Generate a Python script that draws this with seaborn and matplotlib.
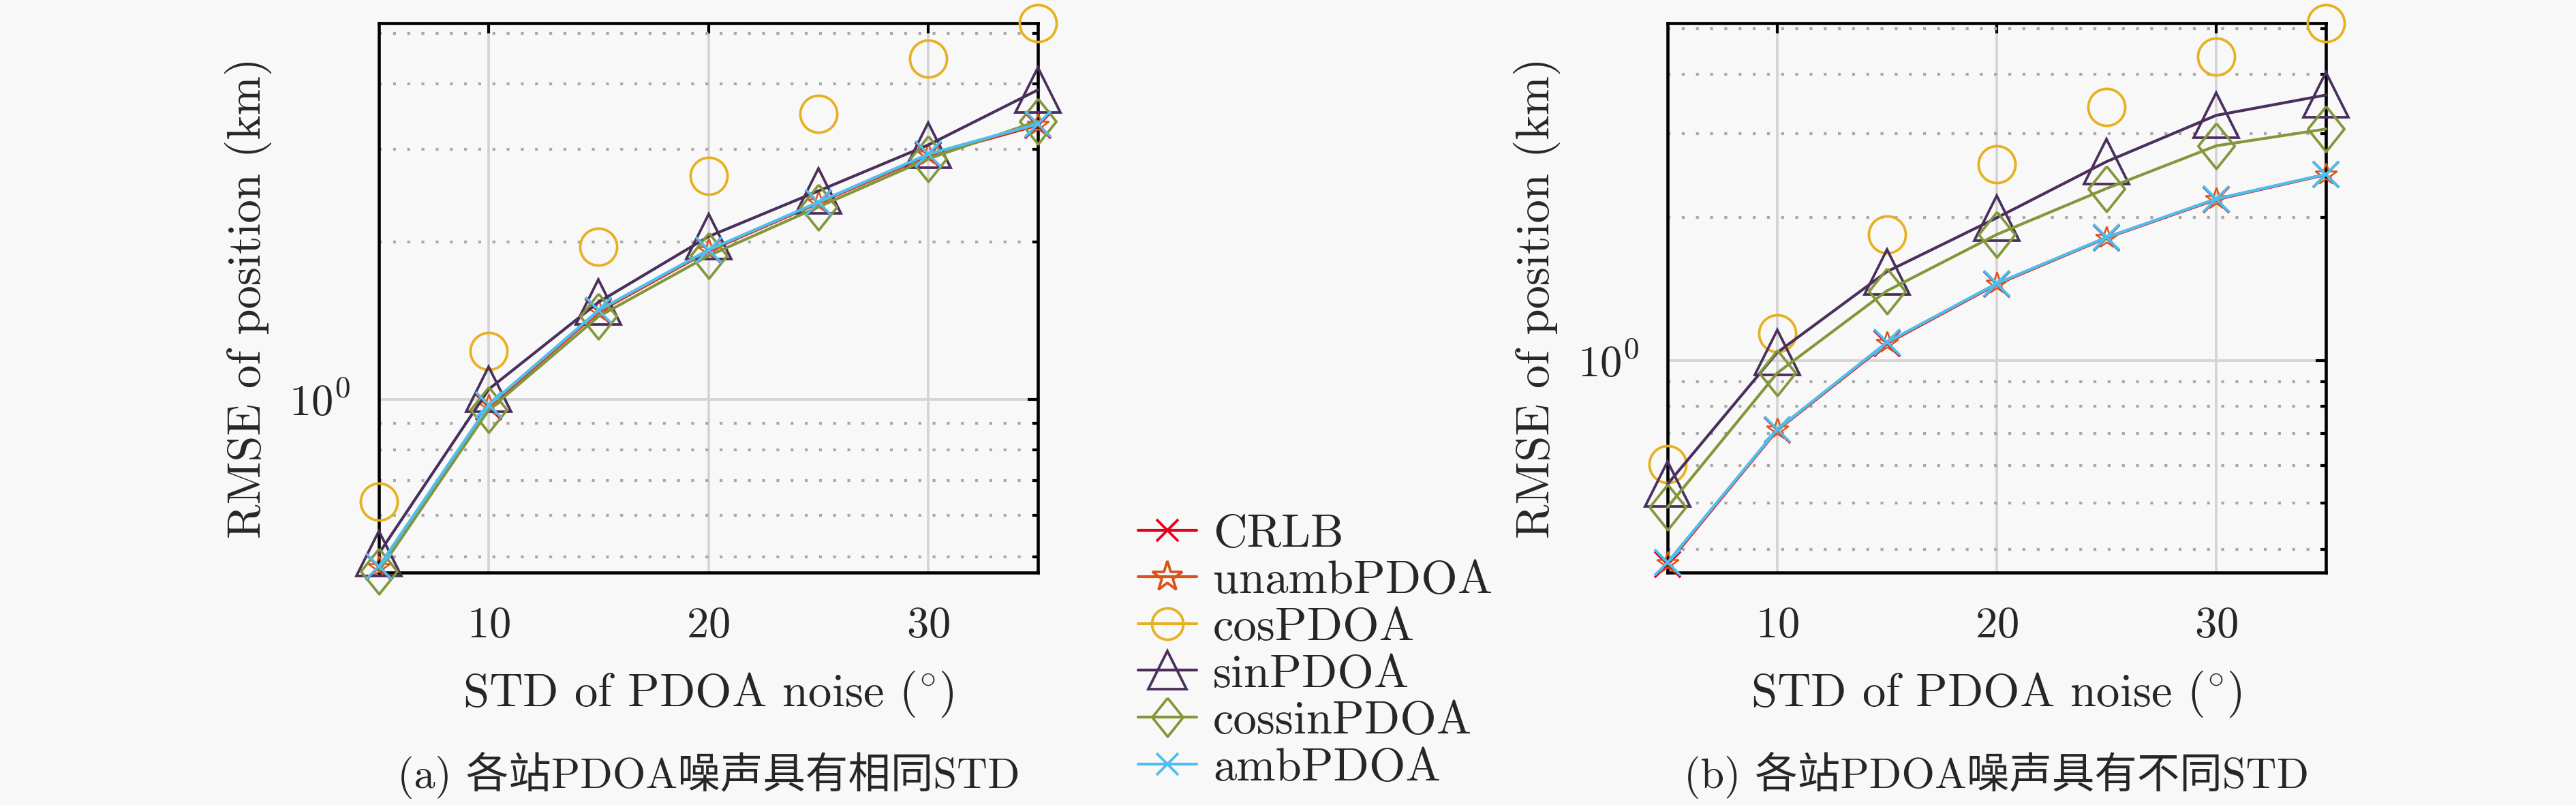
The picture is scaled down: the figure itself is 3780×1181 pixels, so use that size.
import numpy as np
import pandas as pd
import matplotlib
matplotlib.use("Agg")
import matplotlib.pyplot as plt
import seaborn as sns
from matplotlib.lines import Line2D
from matplotlib.ticker import LogLocator, NullLocator, NullFormatter, FixedLocator

# ---------------- data ----------------
x_std = [5, 10, 15, 20, 25, 30, 35]
series_names = ["CRLB", "unambPDOA", "cosPDOA", "sinPDOA", "cossinPDOA", "ambPDOA"]

# panel (a): same STD at every station
crlb_a = [0.478, 0.968, 1.47, 1.92, 2.37, 2.92, 3.34]
unamb_a = [0.479, 0.972, 1.475, 1.925, 2.375, 2.93, 3.35]
cos_a = [0.637, 1.238, 1.955, 2.675, 3.51, 4.47, 5.23]
sin_a = [0.508, 1.046, 1.534, 2.046, 2.50, 3.06, 3.90]
cossin_a = [0.470, 0.955, 1.44, 1.88, 2.33, 2.88, 3.40]
amb_a = [0.480, 0.975, 1.48, 1.93, 2.38, 2.94, 3.36]

# panel (b): different STD at every station
crlb_b = [0.372, 0.712, 1.085, 1.445, 1.81, 2.18, 2.46]
unamb_b = [0.374, 0.714, 1.089, 1.449, 1.813, 2.185, 2.463]
cos_b = [0.605, 1.141, 1.838, 2.59, 3.42, 4.36, 5.13]
sin_b = [0.548, 1.038, 1.537, 1.995, 2.62, 3.28, 3.62]
cossin_b = [0.49, 0.94, 1.40, 1.84, 2.30, 2.83, 3.07]
amb_b = [0.375, 0.715, 1.091, 1.451, 1.815, 2.187, 2.465]

captions = ["(a) 各站PDOA噪声具有相同STD", "(b) 各站PDOA噪声具有不同STD"]
xlabel = r"STD of PDOA noise ($^{\circ}$)"
ylabel = "RMSE of position (km)"

# ---------------- style ----------------
sns.set_style("white")
plt.rcParams["font.family"] = ["cmr10", "Noto Sans CJK SC", "DejaVu Sans"]
plt.rcParams["mathtext.fontset"] = "cm"
plt.rcParams["axes.formatter.use_mathtext"] = True
plt.rcParams["axes.unicode_minus"] = False

BG = "#f8f8f8"
colors = {
    "CRLB": "#e3001b",
    "unambPDOA": "#d95319",
    "cosPDOA": "#e6b020",
    "sinPDOA": "#4a2e5c",
    "cossinPDOA": "#84963a",
    "ambPDOA": "#4dbeee",
}
diamond = [(0, 1), (0.8, 0), (0, -1), (-0.8, 0), (0, 1)]
markers = {
    "CRLB": ("x", 9),
    "unambPDOA": ("*", 8),
    "cosPDOA": ("o", 13),
    "sinPDOA": ("^", 16),
    "cossinPDOA": (diamond, 16),
    "ambPDOA": ("x", 9),
}
edge_w = {"unambPDOA": 0.6}

fig = plt.figure(figsize=(12.6, 3.9367), dpi=300, facecolor=BG)
ax_a = fig.add_axes([0.1471, 0.2887, 0.4029 - 0.1471, 0.9712 - 0.2887])
ax_b = fig.add_axes([0.6473, 0.2887, 0.9029 - 0.6473, 0.9712 - 0.2887])

panels = [
    (ax_a, [crlb_a, unamb_a, cos_a, sin_a, cossin_a, amb_a], (0.467, 5.23)),
    (ax_b, [crlb_b, unamb_b, cos_b, sin_b, cossin_b, amb_b], (0.357, 5.13)),
]

for ax, data, ylim in panels:
    ax.set_facecolor(BG)
    for name, vals in zip(series_names, data):
        df = pd.DataFrame({"x": x_std, "y": vals})
        m, ms = markers[name]
        sns.lineplot(
            data=df, x="x", y="y", ax=ax, color=colors[name],
            linewidth=1.0, marker=m, markersize=ms,
            markerfacecolor="none", markeredgecolor=colors[name],
            markeredgewidth=edge_w.get(name, 0.9),
            linestyle="none" if name == "cosPDOA" else "-",
            legend=False, clip_on=False, zorder=3,
        )
    ax.set_yscale("log")
    ax.set_xlim(5, 35)
    ax.set_ylim(*ylim)
    ax.xaxis.set_major_locator(FixedLocator([10, 20, 30]))
    ax.xaxis.set_minor_locator(NullLocator())
    ax.yaxis.set_major_locator(LogLocator(base=10))
    ax.yaxis.set_minor_locator(LogLocator(base=10, subs=np.arange(2, 10)))
    ax.yaxis.set_minor_formatter(NullFormatter())
    ax.set_axisbelow(True)
    ax.grid(which="major", axis="both", color="#d4d4d4", linewidth=0.9, linestyle="-")
    ax.grid(which="minor", axis="y", color="#a8a8a8", linewidth=1.0, linestyle=(0, (1, 4)))
    ax.tick_params(which="both", direction="in", top=True, right=True, width=1.0,
                   color="black", labelsize=15.5)
    ax.tick_params(which="major", length=3.5, pad=12)
    ax.tick_params(which="minor", length=2.0)
    ax.tick_params(axis="y", which="major", pad=10)
    for sp in ax.spines.values():
        sp.set_linewidth(1.1)
        sp.set_color("black")
    ax.set_xlabel(xlabel, fontsize=16.5, labelpad=8)
    ax.set_ylabel(ylabel, fontsize=16.5, labelpad=6)

for ax, cap in zip([ax_a, ax_b], captions):
    pos = ax.get_position()
    fig.text((pos.x0 + pos.x1) / 2, 0.037, cap, ha="center", va="center", fontsize=15)

handles = []
for name in series_names:
    m, ms = markers[name]
    handles.append(Line2D([], [], color=colors[name], linewidth=1.0, marker=m,
                          markersize=(ms * 0.85 if name != "unambPDOA" else 11),
                          markerfacecolor="none",
                          markeredgecolor=colors[name], markeredgewidth=0.9))
fig.legend(handles, series_names, loc="upper left", bbox_to_anchor=(0.4418, 0.362),
           frameon=False, fontsize=16.5, handlelength=1.25, handletextpad=0.35,
           labelspacing=0.108, borderpad=0, borderaxespad=0)

fig.savefig("out.png", dpi=300, facecolor=BG)
